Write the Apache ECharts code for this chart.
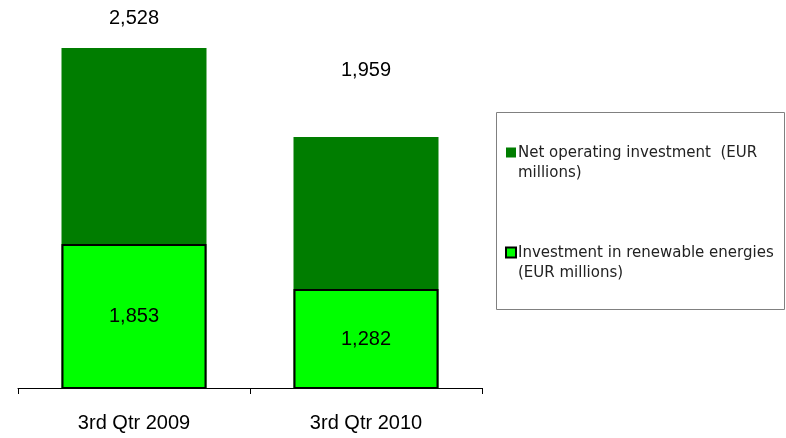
<!DOCTYPE html>
<html>
<head>
<meta charset="utf-8">
<script src="https://cdn.jsdelivr.net/npm/echarts@6/dist/echarts.min.js"></script>
<style>
    html, body { margin: 0; padding: 0; background: #fff; }
    #chart { width: 786px; height: 438px; }
</style>
</head>
<body>
<div id="chart"></div>
<script>
// data
const categories = ['3rd Qtr 2009', '3rd Qtr 2010']
const seriesNames = ['Net operating investment  (EUR millions)', 'Investment in renewable energies (EUR millions)']
const legendLabels = ['Net operating investment  (EUR\nmillions)', 'Investment in renewable energies\n(EUR millions)']
const netOperating = [2528, 1959]
const renewables = [1853, 1282]

const font = 'Liberation Sans, Arial, sans-serif'
const fmt = (v) => v.toLocaleString('en-US')
// the two bar sets in the original are not on one common scale
const topLabelGap = [20, 57]

let myChart = echarts.init(document.getElementById('chart'))
let option = {
    animation: false,
    grid: { left: 18, right: 304, top: 48, bottom: 50 },
    graphic: [{
        type: 'rect',
        shape: { x: 496.5, y: 112.5, width: 288, height: 197 },
        style: { fill: 'none', stroke: '#808080', lineWidth: 1 }
    }],
    legend: {
        orient: 'vertical',
        left: 505,
        top: 143,
        padding: 0,
        itemGap: 59,
        itemWidth: 10,
        itemHeight: 40,
        data: [
            { name: seriesNames[0], icon: 'path://M0,0L0,0M0,4.5h10v10h-10zM10,40L10,40' },
            { name: seriesNames[1], icon: 'path://M0,0L0,0M0,4.5h10v10h-10zM10,40L10,40' }
        ],
        formatter: (name) => legendLabels[seriesNames.indexOf(name)],
        textStyle: { fontFamily: 'DejaVu Sans, sans-serif', fontSize: 15, lineHeight: 20, color: '#222', padding: [0, 0, 0, -3] },
        selectedMode: false
    },
    xAxis: {
        type: 'category',
        data: categories,
        axisLine: { lineStyle: { color: '#000', width: 1 } },
        axisTick: { show: true, length: 6, lineStyle: { color: '#000' } },
        axisLabel: { fontFamily: font, fontSize: 20, color: '#000', margin: 25 }
    },
    yAxis: [
        { type: 'value', show: false, min: 354, max: 2528, splitLine: { show: false } },
        { type: 'value', show: false, min: 26, max: 4340, splitLine: { show: false } }
    ],
    series: [
        {
            name: seriesNames[0],
            type: 'bar',
            yAxisIndex: 0,
            barWidth: 145,
            barGap: '-100%',
            itemStyle: { color: '#007d00' },
            data: netOperating.map((v, i) => ({
                value: v,
                label: { show: true, position: 'top', distance: topLabelGap[i] }
            })),
            label: { fontFamily: font, fontSize: 20, color: '#000', formatter: (p) => fmt(p.value) }
        },
        {
            name: seriesNames[1],
            type: 'bar',
            yAxisIndex: 1,
            barWidth: 145,
            barGap: '-100%',
            itemStyle: { color: '#00ff00', borderColor: '#000', borderWidth: 2 },
            data: renewables,
            label: {
                show: true, position: 'inside',
                fontFamily: font, fontSize: 20, color: '#000',
                formatter: (p) => fmt(p.value)
            }
        }
    ]
}
myChart.setOption(option)
window.addEventListener('resize', function () {
    myChart.resize()
})
</script>
</body>
</html>
